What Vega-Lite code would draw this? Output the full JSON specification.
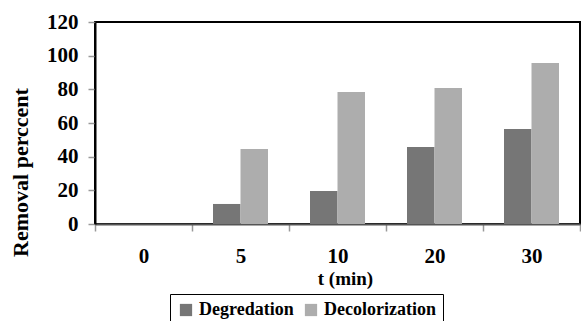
{
  "$schema": "https://vega.github.io/schema/vega-lite/v6.json",
  "autosize": "none",
  "width": 485,
  "height": 202,
  "padding": {"left": 95, "top": 22, "right": 1, "bottom": 97},
  "background": "white",
  "config": {
    "view": {"stroke": "black", "strokeWidth": 2},
    "font": "Liberation Serif"
  },
  "data": {
    "values": [
      {"t": "0", "series": "Degredation", "value": 0},
      {"t": "0", "series": "Decolorization", "value": 0},
      {"t": "5", "series": "Degredation", "value": 11.9},
      {"t": "5", "series": "Decolorization", "value": 44.6},
      {"t": "10", "series": "Degredation", "value": 19.6},
      {"t": "10", "series": "Decolorization", "value": 78.4},
      {"t": "20", "series": "Degredation", "value": 45.7},
      {"t": "20", "series": "Decolorization", "value": 80.8},
      {"t": "30", "series": "Degredation", "value": 56.4},
      {"t": "30", "series": "Decolorization", "value": 95.6}
    ]
  },
  "mark": {"type": "bar"},
  "encoding": {
    "x": {
      "field": "t",
      "type": "ordinal",
      "sort": ["0", "5", "10", "20", "30"],
      "scale": {"paddingInner": 0, "paddingOuter": 0},
      "axis": {
        "title": "t (min)",
        "labelAngle": 0,
        "tickBand": "extent",
        "tickSize": 7,
        "tickColor": "#999999",
        "tickWidth": 1.5,
        "domainColor": "#555555",
        "domainWidth": 2,
        "labelFont": "Liberation Serif",
        "labelFontWeight": "bold",
        "labelFontSize": 21,
        "labelColor": "black",
        "labelBaseline": "alphabetic",
        "labelPadding": 31,
        "titleFont": "Liberation Serif",
        "titleFontWeight": "bold",
        "titleFontSize": 19,
        "titleColor": "black",
        "titleBaseline": "alphabetic",
        "titleAnchor": null,
        "titleX": 250,
        "titleY": 60,
        "titleAlign": "center"
      }
    },
    "xOffset": {
      "field": "series",
      "type": "nominal",
      "sort": ["Degredation", "Decolorization"],
      "scale": {"paddingInner": 0, "paddingOuter": 0.764}
    },
    "y": {
      "field": "value",
      "type": "quantitative",
      "scale": {"domain": [0, 120], "nice": false},
      "axis": {
        "title": "Removal perccent",
        "values": [0, 20, 40, 60, 80, 100, 120],
        "grid": false,
        "tickSize": 7,
        "tickColor": "#999999",
        "tickWidth": 1.5,
        "domainColor": "black",
        "domainWidth": 2,
        "labelFont": "Liberation Serif",
        "labelFontWeight": "bold",
        "labelFontSize": 21,
        "labelColor": "black",
        "labelPadding": 10,
        "titleFont": "Liberation Serif",
        "titleFontWeight": "bold",
        "titleFontSize": 22,
        "titleColor": "black",
        "titleAngle": 270,
        "titleAnchor": null,
        "titleBaseline": "middle",
        "titleAlign": "center",
        "titleX": -75,
        "titleY": 150
      }
    },
    "color": {
      "field": "series",
      "type": "nominal",
      "sort": ["Degredation", "Decolorization"],
      "scale": {"domain": ["Degredation", "Decolorization"], "range": ["#767676", "#adadad"]},
      "legend": {
        "title": null,
        "orient": "none",
        "direction": "horizontal",
        "legendX": 75,
        "legendY": 272,
        "strokeColor": "black",
        "fillColor": "white",
        "padding": 7,
        "symbolType": "square",
        "symbolSize": 150,
        "symbolStrokeWidth": 0,
        "labelFont": "Liberation Serif",
        "labelFontWeight": "bold",
        "labelFontSize": 18,
        "labelColor": "black",
        "labelOffset": 4,
        "columnPadding": 8
      }
    }
  }
}
